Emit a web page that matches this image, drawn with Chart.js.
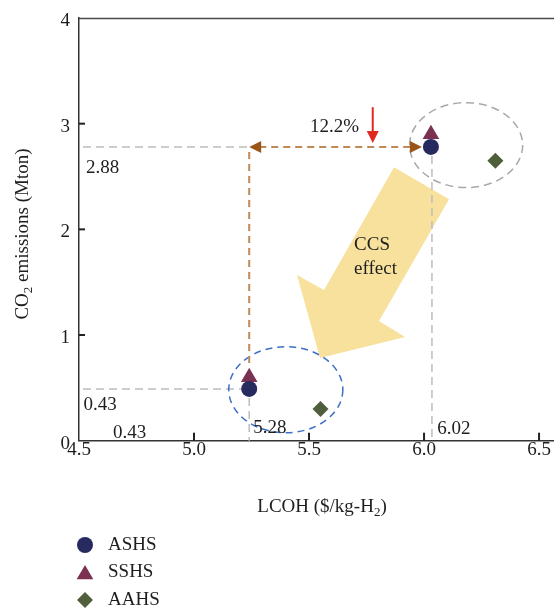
<!DOCTYPE html>
<html><head><meta charset="utf-8">
<script src="https://cdn.jsdelivr.net/npm/chart.js@4"></script>
<style>html,body{margin:0;padding:0;background:#fff}</style>
</head><body>
<canvas id="c" width="554" height="610"></canvas>
<script>
// ---- data ----
const seriesNames = ['ASHS', 'SSHS', 'AAHS'];
const lcohASHS = [6.03, 5.24];
const co2ASHS  = [2.78, 0.49];
const lcohSSHS = [6.03, 5.24];
const co2SSHS  = [2.90, 0.60];
const lcohAAHS = [6.31, 5.55];
const co2AAHS  = [2.65, 0.30];
const xTicks = [4.5, 5.0, 5.5, 6.0, 6.5];
const yTicks = [0, 1, 2, 3, 4];
const xTickLabels = ['4.5', '5.0', '5.5', '6.0', '6.5'];
const yTickLabels = ['0', '1', '2', '3', '4'];
const noteLabels = ['2.88', '0.43', '0.43', '5.28', '6.02', '12.2%'];
const arrowText = ['CCS', 'effect'];

// ---- styles / annotation geometry (data coordinates) ----
const FONT = '"Liberation Serif", "DejaVu Serif", serif';
const colors = ['#262a5e', '#7b3151', '#4f5f3b'];
const noteAt = [[4.53, 2.58], [4.52, 0.34], [4.648, 0.075], [5.257, 0.12], [6.057, 0.11], [5.504, 2.967]];
const ccsAt = [[5.696, 1.851], [5.696, 1.624]];
const yellowArrow = [[5.8696, 2.5875], [6.1087, 2.2848], [5.8043, 1.1325], [5.9174, 0.981], [5.5478, 0.7824], [5.4478, 1.5676], [5.5652, 1.4257]];
const ellipses = [
  {cx: 6.183, cy: 2.797, rx: 0.2457, ry: 0.402, color: '#a8a8a8', dash: [8, 5]},
  {cx: 5.399, cy: 0.4825, rx: 0.248, ry: 0.407, color: '#3d6fc6', dash: [7, 5]}
];
const redArrowAt = [5.777, 3.156, 2.816];

function pts(xs, ys) { return xs.map((x, i) => ({x, y: ys[i]})); }

const decor = {
  id: 'decor',
  beforeDatasetsDraw(chart) {
    const {ctx, chartArea: a, scales: {x, y}} = chart;
    const px = v => x.getPixelForValue(v), py = v => y.getPixelForValue(v);
    ctx.save();
    // top border
    ctx.strokeStyle = '#4a4a4a'; ctx.lineWidth = 1.5;
    ctx.beginPath(); ctx.moveTo(a.left, a.top + 0.5); ctx.lineTo(a.right, a.top + 0.5); ctx.stroke();
    // inner tick marks
    ctx.lineWidth = 2; ctx.strokeStyle = '#222';
    xTicks.slice(1).forEach(v => { ctx.beginPath(); ctx.moveTo(px(v), a.bottom); ctx.lineTo(px(v), a.bottom - 8); ctx.stroke(); });
    yTicks.slice(1, -1).forEach(v => { ctx.beginPath(); ctx.moveTo(a.left, py(v)); ctx.lineTo(a.left + 6, py(v)); ctx.stroke(); });
    // yellow arrow
    ctx.fillStyle = '#f8e19c';
    ctx.beginPath();
    yellowArrow.forEach(([vx, vy], i) => i ? ctx.lineTo(px(vx), py(vy)) : ctx.moveTo(px(vx), py(vy)));
    ctx.closePath(); ctx.fill();
    // gray guide lines
    ctx.setLineDash([8, 5]); ctx.lineWidth = 1.5; ctx.strokeStyle = '#bdbdbd';
    const line = (x1, y1, x2, y2) => { ctx.beginPath(); ctx.moveTo(x1, y1); ctx.lineTo(x2, y2); ctx.stroke(); };
    line(a.left + 4, py(co2ASHS[0]), px(lcohASHS[1]) - 1, py(co2ASHS[0]));
    line(a.left + 4, py(co2ASHS[1]), px(lcohASHS[1]), py(co2ASHS[1]));
    line(px(lcohASHS[0]) + 1, py(co2ASHS[0]) + 9, px(lcohASHS[0]) + 1, a.bottom);
    line(px(lcohASHS[1]), py(co2ASHS[1]) + 9, px(lcohASHS[1]), a.bottom);
    // ellipses
    ellipses.forEach(e => {
      ctx.strokeStyle = e.color; ctx.setLineDash(e.dash); ctx.lineWidth = 1.5;
      const cx = px(e.cx), cy = py(e.cy);
      const rx = px(e.cx + e.rx) - cx, ry = cy - py(e.cy + e.ry);
      ctx.beginPath(); ctx.ellipse(cx, cy, rx, ry, 0, 0, Math.PI * 2); ctx.stroke();
    });
    // brown arrows
    ctx.strokeStyle = '#c08a58'; ctx.lineWidth = 2; ctx.setLineDash([7, 5]);
    const yA = py(co2ASHS[0]), xL = px(lcohASHS[1]), xR = px(lcohASHS[0]) - 9;
    line(xL + 10, yA, xR - 10, yA);
    line(xL, yA + 5, xL, py(co2SSHS[1]) - 10);
    ctx.setLineDash([]);
    ctx.fillStyle = '#9a5519';
    ctx.beginPath(); ctx.moveTo(xL, yA); ctx.lineTo(xL + 12, yA - 6); ctx.lineTo(xL + 12, yA + 6); ctx.closePath(); ctx.fill();
    ctx.beginPath(); ctx.moveTo(xR, yA); ctx.lineTo(xR - 12, yA - 6); ctx.lineTo(xR - 12, yA + 6); ctx.closePath(); ctx.fill();
    ctx.restore();
  },
  afterDatasetsDraw(chart) {
    const {ctx, chartArea: a, scales: {x, y}} = chart;
    const px = v => x.getPixelForValue(v), py = v => y.getPixelForValue(v);
    ctx.save();
    ctx.fillStyle = '#1e1e1e'; ctx.textBaseline = 'middle'; ctx.textAlign = 'left';
    ctx.font = '19px ' + FONT;
    noteLabels.forEach((t, i) => ctx.fillText(t, px(noteAt[i][0]), py(noteAt[i][1])));
    arrowText.forEach((t, i) => ctx.fillText(t, px(ccsAt[i][0]), py(ccsAt[i][1])));
    // red arrow
    const rx = px(redArrowAt[0]), ry1 = py(redArrowAt[1]), ry2 = py(redArrowAt[2]);
    ctx.strokeStyle = '#e02a1f'; ctx.fillStyle = '#e02a1f'; ctx.lineWidth = 2;
    ctx.beginPath(); ctx.moveTo(rx, ry1); ctx.lineTo(rx, ry2 - 10); ctx.stroke();
    ctx.beginPath(); ctx.moveTo(rx, ry2); ctx.lineTo(rx - 6, ry2 - 12); ctx.lineTo(rx + 6, ry2 - 12); ctx.closePath(); ctx.fill();
    // axis titles with subscripts
    ctx.fillStyle = '#1e1e1e';
    const drawSub = (parts, cx, cy) => {
      const big = '19px ' + FONT, small = '13px ' + FONT;
      let w = 0;
      parts.forEach(p => { ctx.font = p.sub ? small : big; w += ctx.measureText(p.t).width; });
      let cur = cx - w / 2;
      ctx.textAlign = 'left'; ctx.textBaseline = 'alphabetic';
      parts.forEach(p => { ctx.font = p.sub ? small : big; ctx.fillText(p.t, cur, cy + (p.sub ? 4 : 0)); cur += ctx.measureText(p.t).width; });
    };
    drawSub([{t: 'LCOH ($/kg-H'}, {t: '2', sub: true}, {t: ')'}], 322, 512);
    ctx.save(); ctx.translate(28, 234); ctx.rotate(-Math.PI / 2);
    drawSub([{t: 'CO'}, {t: '2', sub: true}, {t: ' emissions (Mton)'}], 0, 0);
    ctx.restore();
    // legend
    const ds = chart.data.datasets;
    ds.forEach((d, i) => {
      const ly = 545 + i * 27.5;
      ctx.fillStyle = d.backgroundColor; ctx.strokeStyle = d.backgroundColor;
      Chart.helpers.drawPoint(ctx, {pointStyle: d.pointStyle, radius: d.pointRadius, rotation: 0, borderWidth: 0}, 85, ly + (d.pointStyle === 'triangle' ? 2 : 0));
      ctx.fillStyle = '#1e1e1e'; ctx.font = '19px ' + FONT; ctx.textBaseline = 'middle';
      ctx.fillText(d.label, 108, ly);
    });
    ctx.restore();
  }
};

new Chart(document.getElementById('c'), {
  type: 'scatter',
  data: {
    datasets: [
      {label: seriesNames[0], data: pts(lcohASHS, co2ASHS), pointStyle: 'circle', pointRadius: 8, backgroundColor: colors[0], borderWidth: 0},
      {label: seriesNames[1], data: pts(lcohSSHS, co2SSHS), pointStyle: 'triangle', pointRadius: 9.6, backgroundColor: colors[1], borderWidth: 0},
      {label: seriesNames[2], data: pts(lcohAAHS, co2AAHS), pointStyle: 'rectRot', pointRadius: 8, backgroundColor: colors[2], borderWidth: 0}
    ]
  },
  options: {
    responsive: false, animation: false, devicePixelRatio: 1,
    layout: {autoPadding: false, padding: {top: 18, right: 0, bottom: 0, left: 0}},
    plugins: {legend: {display: false}, tooltip: {enabled: false}},
    scales: {
      x: {
        type: 'linear', min: 4.5, max: 6.565,
        afterBuildTicks: s => { s.ticks = xTicks.map(v => ({value: v})); },
        afterFit: s => { s.height = 169.3; s.paddingRight = 0; s.paddingLeft = 0; },
        grid: {display: false, drawTicks: false},
        border: {display: true, color: '#333', width: 1.5},
        ticks: {color: '#1e1e1e', font: {family: FONT, size: 19, lineHeight: 1}, padding: 0, maxRotation: 0,
                callback: (v, i) => xTickLabels[i]}
      },
      y: {
        type: 'linear', min: 0, max: 4,
        afterBuildTicks: s => { s.ticks = yTicks.map(v => ({value: v})); },
        afterFit: s => { s.width = 79; s.paddingTop = 0; s.paddingBottom = 0; },
        grid: {display: false, drawTicks: false},
        border: {display: true, color: '#333', width: 1.5},
        ticks: {color: '#1e1e1e', font: {family: FONT, size: 19}, padding: 9, labelOffset: 3,
                callback: (v, i) => yTickLabels[i]}
      }
    }
  },
  plugins: [decor]
});
</script>
</body></html>
